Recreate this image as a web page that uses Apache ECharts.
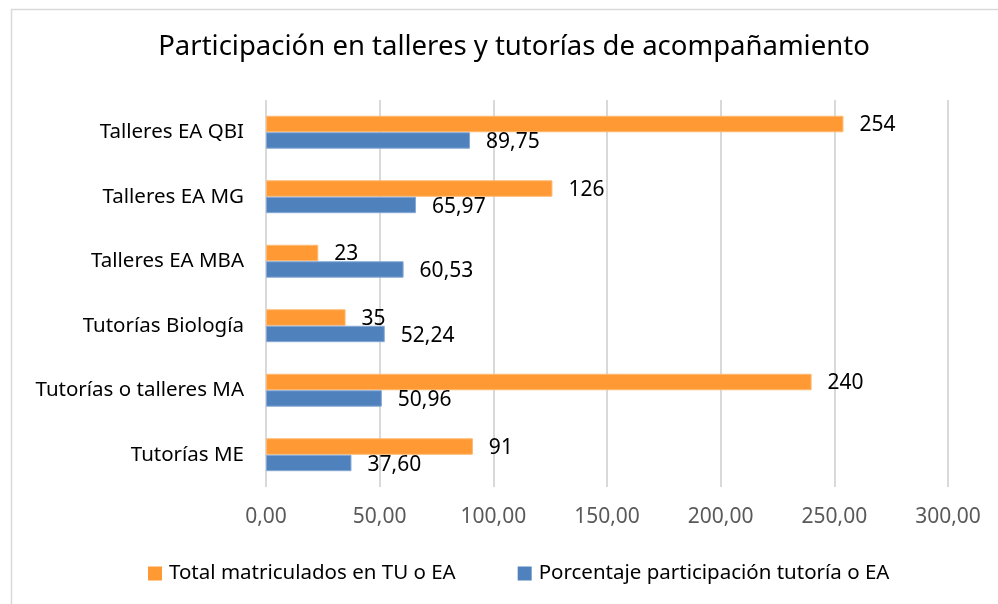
<!DOCTYPE html>
<html>
<head>
<meta charset="utf-8">
<script src="https://cdn.jsdelivr.net/npm/echarts@6/dist/echarts.min.js"></script>
<style>
  html, body { margin: 0; padding: 0; background: #fff; }
  #main { width: 998px; height: 604px; }
</style>
</head>
<body>
<div id="main"></div>
<script>
// categorias de arriba hacia abajo
var categorias = ['Talleres EA QBI', 'Talleres EA MG', 'Talleres EA MBA', 'Tutorías Biología', 'Tutorías o talleres MA', 'Tutorías ME'];
var totalMatriculados = [254, 126, 23, 35, 240, 91];
var porcentajeParticipacion = [89.75, 65.97, 60.53, 52.24, 50.96, 37.60];
var nombreTotal = 'Total matriculados en TU o EA';
var nombrePorcentaje = 'Porcentaje participación tutoría o EA';

var FONT = 'Noto Sans';
var coma = function (v, d) { return Number(v).toFixed(d).replace('.', ','); };

var myChart = echarts.init(document.getElementById('main'));
myChart.setOption({
    animation: false,
    backgroundColor: '#fff',
    graphic: [{
        type: 'rect',
        shape: { x: 11.5, y: 9.5, width: 1000, height: 700 },
        style: { fill: 'none', stroke: '#d9d9d9', lineWidth: 1.5 },
        silent: true
    }],
    title: {
        text: 'Participación en talleres y tutorías de acompañamiento',
        left: 509,
        textAlign: 'center',
        top: 28,
        textStyle: { fontFamily: FONT, fontSize: 27.5, fontWeight: 'normal', color: '#000' }
    },
    legend: {
        data: [nombreTotal, nombrePorcentaje],
        left: 143,
        top: 558,
        itemWidth: 14,
        itemHeight: 14,
        itemGap: 62,
        icon: 'rect',
        itemStyle: { borderWidth: 0 },
        textStyle: { fontFamily: FONT, fontSize: 20.5, color: '#000', padding: [0, 0, 0, 2] }
    },
    grid: { left: 266, right: 50, top: 100, bottom: 117 },
    xAxis: {
        type: 'value',
        min: 0,
        max: 300,
        interval: 50,
        axisLine: { show: false },
        axisTick: { show: false },
        splitLine: { lineStyle: { color: '#d9d9d9', width: 2 } },
        axisLabel: {
            margin: 20,
            fontFamily: FONT, fontSize: 21, color: '#595959',
            formatter: function (v) { return coma(v, 2); }
        }
    },
    yAxis: {
        type: 'category',
        inverse: true,
        data: categorias,
        axisLine: { show: false },
        axisTick: { show: false },
        axisLabel: { margin: 22, fontFamily: FONT, fontSize: 20.5, color: '#000' }
    },
    series: [
        {
            name: nombreTotal,
            type: 'bar',
            data: totalMatriculados,
            barGap: '0%',
            barCategoryGap: '49%',
            itemStyle: { color: '#ff9933', borderColor: '#ffb870', borderWidth: 1 },
            label: {
                show: true, position: 'right', distance: 16, offset: [0, 1],
                fontFamily: FONT, fontSize: 21, color: '#000',
                formatter: function (p) { return String(p.value); }
            }
        },
        {
            name: nombrePorcentaje,
            type: 'bar',
            data: porcentajeParticipacion,
            itemStyle: { color: '#4f81bd', borderColor: '#86a8d4', borderWidth: 1 },
            label: {
                show: true, position: 'right', distance: 16, offset: [0, 2],
                fontFamily: FONT, fontSize: 21, color: '#000',
                formatter: function (p) { return coma(p.value, 2); }
            }
        }
    ]
});
window.onresize = myChart.resize;
</script>
</body>
</html>
